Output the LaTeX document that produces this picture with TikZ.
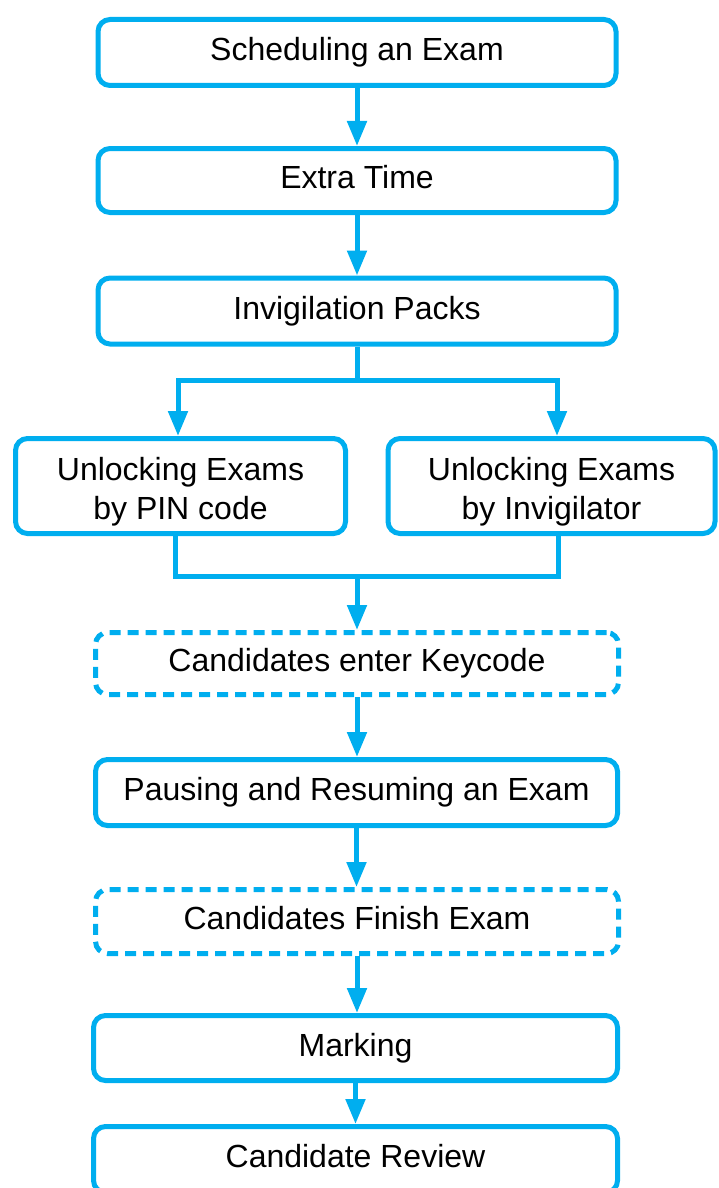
\documentclass[tikz,border=0pt]{standalone}
\usepackage{fontspec}
\setmainfont{Liberation Sans}
\usetikzlibrary{arrows.meta}
\definecolor{fc}{HTML}{00AEEF}
\newcommand{\topstrut}{\rule{0pt}{34pt}}
\tikzset{
  box/.style={draw=fc, line width=5pt, rounded corners=12pt, fill=white,
    inner sep=0pt, align=center, font=\fontsize{32}{39}\selectfont},
  one/.style={box, text height=23pt, text depth=7pt},
  dbox/.style={one, dash pattern=on 11pt off 7pt},
  conn/.style={draw=fc, line width=5pt},
  arr/.style={conn, -{Triangle[width=19pt,length=25pt]}},
}
\begin{document}
\begin{tikzpicture}[x=1pt,y=-1pt]
\useasboundingbox (0,0) rectangle (718,1188);
\node[one, minimum width=518pt, minimum height=66pt] (b1) at (357,52.5) {Scheduling an Exam};
\node[one, minimum width=518pt, minimum height=64pt] (b2) at (357,180.5) {Extra Time};
\node[one, minimum width=518pt, minimum height=66pt] (b3) at (357,311) {Invigilation Packs};
\node[box, minimum width=330pt, minimum height=95pt] (b4) at (180.5,486) {\topstrut Unlocking Exams\\by PIN code};
\node[box, minimum width=327pt, minimum height=95pt] (b5) at (551.5,486) {\topstrut Unlocking Exams\\by Invigilator};
\node[dbox, minimum width=523pt, minimum height=62pt] (b6) at (357,663.5) {Candidates enter Keycode};
\node[one, minimum width=522pt, minimum height=66pt] (b7) at (356.5,792.5) {Pausing and Resuming an Exam};
\node[dbox, minimum width=523pt, minimum height=64pt] (b8) at (357,921.5) {Candidates Finish Exam};
\node[one, minimum width=524pt, minimum height=65pt] (b9) at (355.5,1048) {Marking};
\node[one, minimum width=524pt, minimum height=66pt] (b10) at (355.5,1159.5) {Candidate Review};

\coordinate (j) at (357,380);
\coordinate (jL) at (178,380);
\coordinate (jR) at (557,380);
\coordinate (m) at (357,576);
\coordinate (mL) at (175,576);
\coordinate (mR) at (558,576);

\draw[arr] (b1.south) -- (b1.south |- b2.north);
\draw[arr] (b2.south) -- (b2.south |- b3.north);
\draw[conn] (b3.south) -- (j);
\draw[arr] (jL) -- (jL |- b4.north);
\draw[arr] (jR) -- (jR |- b5.north);
\draw[conn, line cap=rect] (jL) -- (jR);
\draw[conn] (mL |- b4.south) -- (mL) -- (mR) -- (mR |- b5.south);
\draw[arr] (m) -- (m |- b6.north);
\draw[arr] (b6.south) -- (b6.south |- b7.north);
\draw[arr] (b7.south) -- (b7.south |- b8.north);
\draw[arr] (b8.south) -- (b8.south |- b9.north);
\draw[arr] (b9.south) -- (b9.south |- b10.north);
\end{tikzpicture}
\end{document}
